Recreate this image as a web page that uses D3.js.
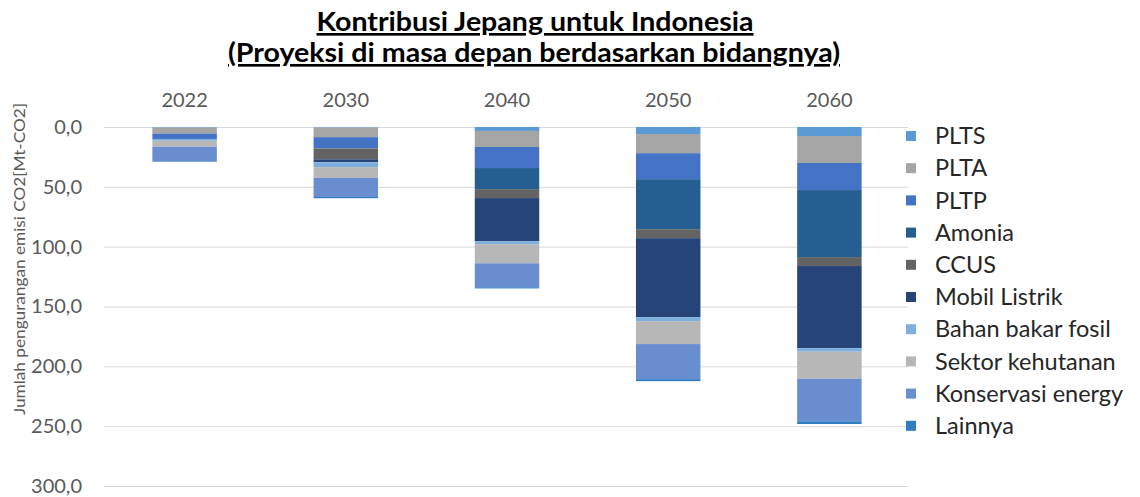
<!DOCTYPE html>
<html><head><meta charset="utf-8">
<script src="https://cdn.jsdelivr.net/npm/d3@7"></script>
<style>body{margin:0;background:#fff;} text{font-family:Lato,"Open Sans",sans-serif;}</style>
</head><body>
<svg id="c" width="1140" height="497"></svg>
<script>
const years = ["2022","2030","2040","2050","2060"];
const seriesNames = ["PLTS","PLTA","PLTP","Amonia","CCUS","Mobil Listrik","Bahan bakar fosil","Sektor kehutanan","Konservasi energy","Lainnya"];
const PLTS = [0.5, 0.5, 3.3, 5.9, 7.5];
const PLTA = [5, 8, 13.4, 16, 22.6];
const PLTP = [4.5, 9.5, 17.6, 21.7, 22.6];
const Amonia = [0, 0, 17.6, 41.8, 56];
const CCUS = [0, 9, 7.5, 7.5, 7.5];
const MobilListrik = [0, 2.5, 36, 66, 68.6];
const BahanBakarFosil = [1.5, 4, 2.5, 3.3, 3];
const SektorKehutanan = [5, 9, 16, 19.2, 22.6];
const KonservasiEnergy = [12, 16, 20, 29.3, 35.5];
const Lainnya = [0.5, 1, 1, 1.7, 2.3];
const yTicks = [0,50,100,150,200,250,300];
const colors = ["#5b9bd5","#a5a5a5","#4472c4","#255e91","#636363","#264478","#7cafdd","#b7b7b7","#698ed0","#327dc2"];

const seriesVals = [PLTS,PLTA,PLTP,Amonia,CCUS,MobilListrik,BahanBakarFosil,SektorKehutanan,KonservasiEnergy,Lainnya];
const table = years.map((y,i)=>{const o={year:y}; seriesNames.forEach((s,j)=>o[s]=seriesVals[j][i]); return o;});
const stack = d3.stack().keys(seriesNames)(table);

const svg = d3.select("#c");
const x = d3.scaleBand().domain(years).range([104,910]).paddingInner(0.6).paddingOuter(0.3);
const y = d3.scaleLinear().domain([0,300]).range([127,486]);
const fmt = d => d3.format(".1f")(d).replace(".",",");

// gridlines
svg.append("g").selectAll("line").data(yTicks).join("line")
  .attr("x1",104).attr("x2",908).attr("y1",d=>y(d)+0.5).attr("y2",d=>y(d)+0.5)
  .attr("stroke","#d9d9d9").attr("stroke-width",1);

// y axis labels
const ya = svg.append("g").attr("transform","translate(82,0)")
  .call(d3.axisLeft(y).tickValues(yTicks).tickFormat(fmt).tickSize(0).tickPadding(0));
ya.select(".domain").remove();
ya.selectAll("text").attr("font-size",20).attr("fill","#595959").style("font-family","Lato, sans-serif");

// x axis labels (top)
const xa = svg.append("g").attr("transform","translate(0,107)")
  .call(d3.axisTop(x).tickSize(0).tickPadding(0));
xa.select(".domain").remove();
xa.selectAll("text").attr("font-size",20).attr("fill","#595959").style("font-family","Lato, sans-serif");

// bars
svg.append("g").selectAll("g").data(stack).join("g")
  .attr("fill",(d,i)=>colors[i])
  .selectAll("rect").data(d=>d).join("rect")
  .attr("x",d=>x(d.data.year)).attr("width",x.bandwidth())
  .attr("y",d=>y(d[0])).attr("height",d=>Math.max(0,y(d[1])-y(d[0])));

// axis title
svg.append("text").attr("transform","translate(25,259) rotate(-90)")
  .attr("text-anchor","middle").attr("font-size",15).attr("fill","#595959")
  .attr("textLength",312).attr("lengthAdjust","spacingAndGlyphs")
  .text("Jumlah pengurangan emisi CO2[Mt-CO2]");

// title
svg.append("text").attr("x",535).attr("y",31).attr("text-anchor","middle")
  .attr("font-size",26.5).attr("font-weight","bold").attr("fill","#000")
  .attr("textLength",437).attr("lengthAdjust","spacingAndGlyphs")
  .attr("text-decoration","underline").text("Kontribusi Jepang untuk Indonesia");
svg.append("text").attr("x",534).attr("y",62).attr("text-anchor","middle")
  .attr("font-size",26.5).attr("font-weight","bold").attr("fill","#000")
  .attr("textLength",612).attr("lengthAdjust","spacingAndGlyphs")
  .attr("text-decoration","underline").text("(Proyeksi di masa depan berdasarkan bidangnya)");

// legend
const lg = svg.append("g").selectAll("g").data(seriesNames).join("g")
  .attr("transform",(d,i)=>`translate(906,${136 + i*32.2})`);
lg.append("rect").attr("x",0).attr("y",-5).attr("width",10).attr("height",10).attr("fill",(d,i)=>colors[i]);
lg.append("text").attr("x",29).attr("y",0).attr("dy","0.35em").attr("font-size",23.5).attr("fill","#262626").text(d=>d);
</script>
</body></html>
